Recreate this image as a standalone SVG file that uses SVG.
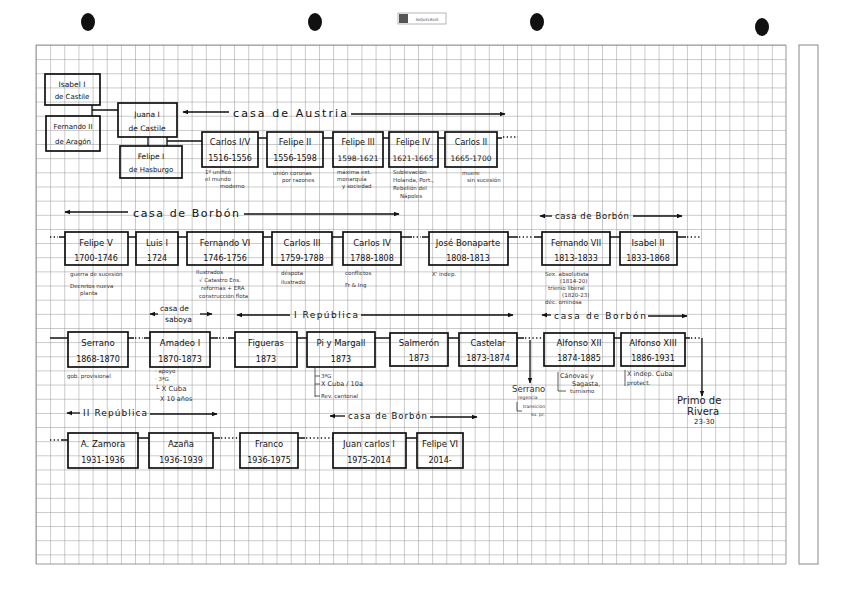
<svg xmlns="http://www.w3.org/2000/svg" width="848" height="599" viewBox="0 0 848 599">
<defs>
<pattern id="grid" x="36" y="45" width="14.15" height="14.15" patternUnits="userSpaceOnUse">
<path d="M0 0H14.15M0 0V14.15" fill="none" stroke="#8c8c8c" stroke-width="0.9"/>
</pattern>
<marker id="ah" viewBox="0 0 10 10" refX="9" refY="5" markerWidth="6" markerHeight="6" orient="auto-start-reverse" markerUnits="userSpaceOnUse">
<path d="M0 1L10 5L0 9Z" fill="#111"/>
</marker>
<style>
.box{fill:none;stroke:#111;stroke-width:1.7}
.nm{font-family:"DejaVu Sans",sans-serif;font-size:8.5px;fill:#111;text-anchor:middle}
.yr{font-family:"DejaVu Sans",sans-serif;font-size:8px;fill:#111;text-anchor:middle}
.note{font-family:"DejaVu Sans",sans-serif;font-size:5.5px;fill:#333}
.house{font-family:"DejaVu Sans",sans-serif;font-size:9px;fill:#111}
.ln{stroke:#111;stroke-width:1.3;fill:none}
.dt{stroke:#111;stroke-width:1.3;fill:none;stroke-dasharray:1.3 2.4}
.br{stroke:#333;stroke-width:0.8;fill:none}
.arr{stroke:#111;stroke-width:1.3;fill:none}
</style>
</defs>
<rect width="848" height="599" fill="#fff"/>
<g id="paper">
<rect x="36" y="45" width="750" height="519" fill="url(#grid)"/>
<path d="M36 45H786V564H36Z" fill="none" stroke="#8c8c8c" stroke-width="0.9"/>
<rect x="799" y="45" width="19" height="519" fill="none" stroke="#888" stroke-width="1"/>
<ellipse cx="88" cy="22" rx="7" ry="9" fill="#111"/>
<ellipse cx="315" cy="22" rx="7" ry="9" fill="#111"/>
<ellipse cx="537" cy="22" rx="7" ry="9" fill="#111"/>
<ellipse cx="762" cy="27" rx="7" ry="9" fill="#111"/>
<rect x="398" y="13" width="48" height="11" fill="none" stroke="#888" stroke-width="0.6"/>
<rect x="399" y="14" width="9" height="9" fill="#555"/>
<text x="427" y="21" font-family="DejaVu Sans,sans-serif" font-size="3.6" fill="#444" text-anchor="middle">MIQUELRIUS</text>
</g>
<g id="connectors">
<path class="ln" d="M92 105V116M92 110H118M148 137V146M167 137V146M167 141H202"/>
<path class="ln" d="M258 138H267M323 138H333M383 138H389M438 138H445M497 138H502"/>
<path class="dt" d="M503 137H518"/>
<path class="dt" d="M50 237H58"/>
<path class="ln" d="M59 237H65M128 237H136M178 237H187M263 237H272M332 237H343M401 237H412M422 237H429M508 237H518M534 237H542M610 237H620M677 237H686"/>
<path class="dt" d="M413 237H421M519 237H533M687 237H700"/>
<path class="ln" d="M50 338H68M128 338H134M144 338H150M210 338H218M228 338H235M297 338H307M375 338H390M448 338H459M517 338H524M614 338H621M685 338H690"/>
<path class="dt" d="M135 338H143M219 338H227M525 338H544M691 338H702"/>
<path class="arr" d="M702 338V396" marker-end="url(#ah)"/>
<path class="arr" d="M530 340V383" marker-end="url(#ah)"/>
<path class="dt" d="M50 440H60"/>
<path class="ln" d="M61 440H68M138 438H149M213 438H220M298 438H305M406 438H417"/>
<path class="dt" d="M221 438H240M306 438H333"/>
</g>
<g id="houses">
<path class="arr" d="M183 112H229" marker-start="url(#ah)"/>
<text class="house" x="233" y="117" style="font-size:11px" textLength="114" lengthAdjust="spacing">casa de Austria</text>
<path class="arr" d="M351 114H505" marker-end="url(#ah)"/>
<path class="arr" d="M65 212H128" marker-start="url(#ah)"/>
<text class="house" x="133" y="217" style="font-size:11px" textLength="106" lengthAdjust="spacing">casa de Borbón</text>
<path class="arr" d="M244 214H399" marker-end="url(#ah)"/>
<path class="arr" d="M540 216H552" marker-start="url(#ah)"/>
<text class="house" x="555" y="219" style="font-size:8.5px" textLength="74" lengthAdjust="spacing">casa de Borbón</text>
<path class="arr" d="M633 216H682" marker-end="url(#ah)"/>
<path class="arr" d="M150 314H158" marker-start="url(#ah)"/>
<text class="house" x="160" y="311" style="font-size:7.5px">casa de</text>
<text class="house" x="165" y="322" style="font-size:7.5px">saboya</text>
<path class="arr" d="M200 314H212" marker-end="url(#ah)"/>
<path class="arr" d="M237 315H290" marker-start="url(#ah)"/>
<text class="house" x="294" y="318" style="font-size:9px" textLength="64" lengthAdjust="spacing">I República</text>
<path class="arr" d="M361 315H513" marker-end="url(#ah)"/>
<path class="arr" d="M542 315H551" marker-start="url(#ah)"/>
<text class="house" x="554" y="319" style="font-size:9px" textLength="92" lengthAdjust="spacing">casa de Borbón</text>
<path class="arr" d="M648 316H687" marker-end="url(#ah)"/>
<path class="arr" d="M67 413H80" marker-start="url(#ah)"/>
<text class="house" x="83" y="416" style="font-size:9px" textLength="64" lengthAdjust="spacing">II República</text>
<path class="arr" d="M150 414H217" marker-end="url(#ah)"/>
<path class="arr" d="M330 416H345" marker-start="url(#ah)"/>
<text class="house" x="348" y="419" style="font-size:8.5px" textLength="79" lengthAdjust="spacing">casa de Borbón</text>
<path class="arr" d="M430 417H477" marker-end="url(#ah)"/>
</g>
<g id="isabel1"><rect class="box" x="45" y="74" width="55" height="31"/><text class="nm" x="72" y="87" style="font-size:7.5px">Isabel I</text><text class="nm" x="72" y="99" style="font-size:7px">de Castile</text></g>
<g id="fernando2"><rect class="box" x="46" y="116" width="54" height="35"/><text class="nm" x="73" y="129" style="font-size:7px">Fernando II</text><text class="nm" x="73" y="144" style="font-size:7px">de Aragón</text></g>
<g id="juana1"><rect class="box" x="118" y="103" width="59" height="34"/><text class="nm" x="147" y="117" style="font-size:7.5px">Juana I</text><text class="nm" x="147" y="131" style="font-size:7.5px">de Castile</text></g>
<g id="felipe1"><rect class="box" x="120" y="146" width="62" height="32"/><text class="nm" x="151" y="159" style="font-size:7.5px">Felipe I</text><text class="nm" x="151" y="172" style="font-size:7px">de Hasburgo</text></g>

<g id="carlos1"><rect class="box" x="202" y="132" width="56" height="35"/><text class="nm" x="230" y="145">Carlos I/V</text><text class="yr" x="230" y="161">1516-1556</text></g>
<g id="felipe2"><rect class="box" x="267" y="132" width="56" height="35"/><text class="nm" x="295" y="145">Felipe II</text><text class="yr" x="295" y="161">1556-1598</text></g>
<g id="felipe3"><rect class="box" x="333" y="132" width="50" height="35"/><text class="nm" x="358" y="145" style="font-size:8px">Felipe III</text><text class="yr" x="358" y="161" style="font-size:7.5px">1598-1621</text></g>
<g id="felipe4"><rect class="box" x="389" y="132" width="49" height="35"/><text class="nm" x="413" y="145" style="font-size:8px">Felipe IV</text><text class="yr" x="413" y="161" style="font-size:7.5px">1621-1665</text></g>
<g id="carlos2"><rect class="box" x="445" y="132" width="52" height="35"/><text class="nm" x="471" y="145" style="font-size:8px">Carlos II</text><text class="yr" x="471" y="161" style="font-size:7.5px">1665-1700</text></g>

<g id="notes1">
<text class="note" x="205" y="174">1º unificó</text><text class="note" x="205" y="181">el mundo</text><text class="note" x="220" y="188">moderno</text>
<text class="note" x="273" y="175">unión coronas</text><text class="note" x="282" y="182">por razones</text>
<text class="note" x="337" y="174">máxima ext.</text><text class="note" x="337" y="181">monarquía</text><text class="note" x="342" y="188">y sociedad</text>
<text class="note" x="393" y="174">Sublevación</text><text class="note" x="393" y="182">Holanda, Port.,</text><text class="note" x="393" y="190">Rebelión del</text><text class="note" x="400" y="198">Nápoles</text>
<text class="note" x="462" y="175">muere</text><text class="note" x="467" y="182">sin sucesión</text>
</g>

<g id="felipe5"><rect class="box" x="65" y="232" width="63" height="33"/><text class="nm" x="96" y="246">Felipe V</text><text class="yr" x="96" y="261">1700-1746</text></g>
<g id="luis1"><rect class="box" x="136" y="232" width="42" height="33"/><text class="nm" x="157" y="246">Luis I</text><text class="yr" x="157" y="261">1724</text></g>
<g id="fernando6"><rect class="box" x="187" y="232" width="76" height="33"/><text class="nm" x="225" y="246">Fernando VI</text><text class="yr" x="225" y="261">1746-1756</text></g>
<g id="carlos3"><rect class="box" x="272" y="232" width="60" height="33"/><text class="nm" x="302" y="246">Carlos III</text><text class="yr" x="302" y="261">1759-1788</text></g>
<g id="carlos4"><rect class="box" x="343" y="232" width="58" height="33"/><text class="nm" x="372" y="246">Carlos IV</text><text class="yr" x="372" y="261">1788-1808</text></g>
<g id="jose"><rect class="box" x="429" y="232" width="79" height="33"/><text class="nm" x="468" y="246">José Bonaparte</text><text class="yr" x="468" y="261">1808-1813</text></g>
<g id="fernando7"><rect class="box" x="542" y="232" width="68" height="33"/><text class="nm" x="576" y="246" style="font-size:8px">Fernando VII</text><text class="yr" x="576" y="261">1813-1833</text></g>
<g id="isabel2"><rect class="box" x="620" y="232" width="57" height="33"/><text class="nm" x="648" y="246">Isabel II</text><text class="yr" x="648" y="261">1833-1868</text></g>

<g id="notes2">
<text class="note" x="70" y="276">guerra de sucesión</text><text class="note" x="70" y="288">Decretos nueva</text><text class="note" x="80" y="295">planta</text>
<text class="note" x="196" y="274">Ilustrados</text><text class="note" x="199" y="282">√ Catastro Ens.</text><text class="note" x="201" y="290">reformas + ERA</text><text class="note" x="199" y="298">construcción flota</text>
<text class="note" x="281" y="275">déspota</text><text class="note" x="281" y="284">ilustrado</text>
<text class="note" x="345" y="275">conflictos</text><text class="note" x="345" y="287">Fr &amp; Ing</text>
<text class="note" x="432" y="276">X' indep.</text>
<text class="note" x="545" y="276">Sex. absolutista</text><text class="note" x="560" y="283">(1814-20)</text><text class="note" x="548" y="290">trienio liberal</text><text class="note" x="562" y="297">(1820-23)</text><text class="note" x="545" y="304">déc. ominosa</text>
</g>

<g id="serrano"><rect class="box" x="68" y="332" width="60" height="35"/><text class="nm" x="98" y="346">Serrano</text><text class="yr" x="98" y="362">1868-1870</text></g>
<g id="amadeo"><rect class="box" x="150" y="332" width="60" height="35"/><text class="nm" x="180" y="346">Amadeo I</text><text class="yr" x="180" y="362">1870-1873</text></g>
<g id="figueras"><rect class="box" x="235" y="332" width="62" height="35"/><text class="nm" x="266" y="346">Figueras</text><text class="yr" x="266" y="362">1873</text></g>
<g id="pimargall"><rect class="box" x="307" y="332" width="68" height="35"/><text class="nm" x="341" y="346">Pi y Margall</text><text class="yr" x="341" y="362">1873</text></g>
<g id="salmeron"><rect class="box" x="390" y="333" width="58" height="33"/><text class="nm" x="419" y="346">Salmerón</text><text class="yr" x="419" y="361">1873</text></g>
<g id="castelar"><rect class="box" x="459" y="333" width="58" height="33"/><text class="nm" x="488" y="346">Castelar</text><text class="yr" x="488" y="361">1873-1874</text></g>
<g id="alfonso12"><rect class="box" x="544" y="333" width="70" height="33"/><text class="nm" x="579" y="346">Alfonso XII</text><text class="yr" x="579" y="361">1874-1885</text></g>
<g id="alfonso13"><rect class="box" x="621" y="333" width="64" height="33"/><text class="nm" x="653" y="346">Alfonso XIII</text><text class="yr" x="653" y="361">1886-1931</text></g>

<g id="notes3">
<text class="note" x="67" y="378">gob. provisional</text>
<text class="note" x="155" y="373">· apoyo</text><text class="note" x="155" y="381">· 3ªG</text><text class="note" x="155" y="391" style="font-size:7px">└ X Cuba</text><text class="note" x="160" y="401" style="font-size:6.5px">X 10 años</text>
<path class="br" d="M315 368V397M315 376H320M315 384H320M315 396H320"/>
<text class="note" x="321" y="378">3ªG</text><text class="note" x="321" y="386" style="font-size:6.5px">X Cuba / 10a</text><text class="note" x="321" y="398">Rev. cantonal</text>
<text class="note" x="512" y="392" style="font-size:8.5px">Serrano</text><text class="note" x="518" y="399" style="font-size:4.5px">regencia</text>
<path class="br" d="M517 402V411H522"/><text class="note" x="523" y="408" style="font-size:4.5px">transición</text><text class="note" x="531" y="416" style="font-size:4.5px">su. pr.</text>
<path class="br" d="M558 372V391H566"/>
<text class="note" x="560" y="378" style="font-size:6.5px">Cánovas y</text><text class="note" x="572" y="386" style="font-size:6.5px">Sagasta,</text><text class="note" x="570" y="393" style="font-size:5.5px">turnismo</text>
<path class="br" d="M625 370V386"/>
<text class="note" x="627" y="376" style="font-size:6.5px">X indep. Cuba</text><text class="note" x="627" y="385" style="font-size:6px">protect.</text>
</g>
<g id="primo">
<text class="note" x="677" y="404" style="font-size:10px;fill:#222">Primo de</text><text class="note" x="687" y="415" style="font-size:10px;fill:#222">Rivera</text><text class="note" x="694" y="424" style="font-size:7px;fill:#222">23-30</text>
</g>

<g id="zamora"><rect class="box" x="68" y="433" width="70" height="35"/><text class="nm" x="103" y="447">A. Zamora</text><text class="yr" x="103" y="463">1931-1936</text></g>
<g id="azana"><rect class="box" x="149" y="433" width="64" height="35"/><text class="nm" x="181" y="447">Azaña</text><text class="yr" x="181" y="463">1936-1939</text></g>
<g id="franco"><rect class="box" x="240" y="433" width="58" height="35"/><text class="nm" x="269" y="447">Franco</text><text class="yr" x="269" y="463">1936-1975</text></g>
<g id="juancarlos"><rect class="box" x="333" y="433" width="73" height="35"/><text class="nm" x="369" y="447">Juan carlos I</text><text class="yr" x="369" y="463">1975-2014</text></g>
<g id="felipe6"><rect class="box" x="417" y="433" width="46" height="35"/><text class="nm" x="440" y="447">Felipe VI</text><text class="yr" x="440" y="463">2014-</text></g>
</svg>
